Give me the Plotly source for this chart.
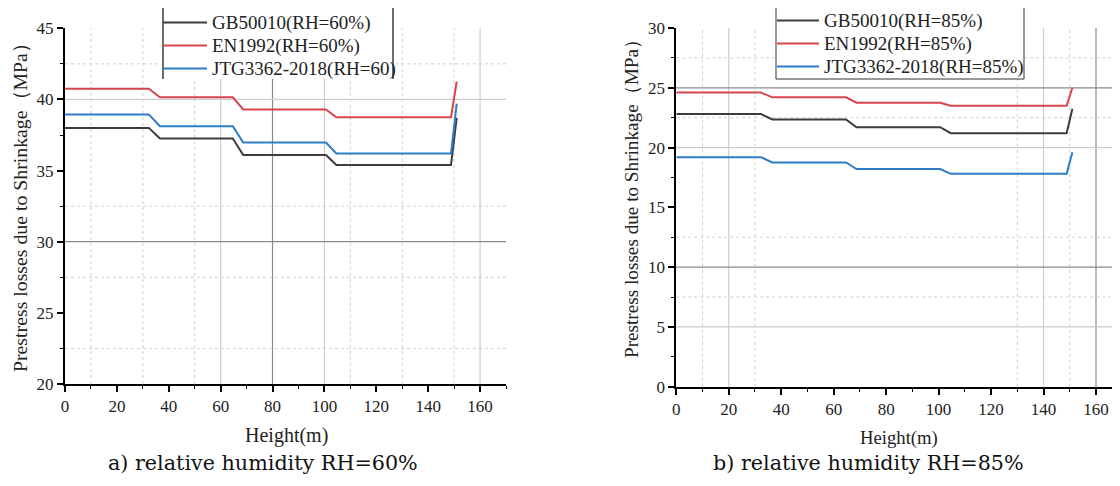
import plotly.graph_objects as go

# ---------------- data ----------------
heights = [0, 32.3, 36.6, 64.7, 68.7, 100.6, 104.6, 148.8, 151]

gb_60 = [38.0, 38.0, 37.25, 37.25, 36.1, 36.1, 35.4, 35.4, 38.7]
en_60 = [40.75, 40.75, 40.15, 40.15, 39.3, 39.3, 38.75, 38.75, 41.25]
jtg_60 = [38.95, 38.95, 38.12, 38.12, 36.97, 36.97, 36.2, 36.2, 39.7]

gb_85 = [22.8, 22.8, 22.35, 22.35, 21.7, 21.7, 21.2, 21.2, 23.25]
en_85 = [24.6, 24.6, 24.2, 24.2, 23.75, 23.75, 23.5, 23.5, 25.0]
jtg_85 = [19.2, 19.2, 18.75, 18.75, 18.2, 18.2, 17.8, 17.8, 19.6]

names_60 = ["GB50010(RH=60%)", "EN1992(RH=60%)", "JTG3362-2018(RH=60)"]
names_85 = ["GB50010(RH=85%)", "EN1992(RH=85%)", "JTG3362-2018(RH=85%)"]

x_ticks = [0, 20, 40, 60, 80, 100, 120, 140, 160]
y_ticks_a = [20, 25, 30, 35, 40, 45]
y_ticks_b = [0, 5, 10, 15, 20, 25, 30]

y_title = "Prestress losses due to Shrinkage（MPa）"
x_title = "Height(m)"
sub_a = "a) relative humidity RH=60%"
sub_b = "b) relative humidity RH=85%"

# grid decoration (value, style)
vgrid_a = {"dot": [10, 30, 50, 110, 130, 150], "light": [60, 100, 160], "dark": [80]}
hgrid_a = {"dot": [22.5, 27.5, 32.5, 42.5], "light": [40], "dark": [30]}
vgrid_b = {"dot": [10, 30, 130, 150], "light": [20, 140], "dark": [160]}
hgrid_b = {"dot": [7.5, 12.5, 22.5, 27.5], "light": [5, 20], "dark": [10, 25]}

colors = ["#3c3c3c", "#d8444c", "#2e7cc6"]
serif = "Liberation Serif, Times New Roman, serif"
LEG_TXT = 19


def leg_name(s):
    return f"<span style='font-size:{LEG_TXT}px'>{s}</span>"


fig = go.Figure()
for vals, name, c in zip([gb_60, en_60, jtg_60], names_60, colors):
    fig.add_trace(go.Scatter(x=heights, y=vals, mode="lines", name=leg_name(name),
                             line=dict(color=c, width=2), xaxis="x", yaxis="y",
                             legend="legend"))
for vals, name, c in zip([gb_85, en_85, jtg_85], names_85, colors):
    fig.add_trace(go.Scatter(x=heights, y=vals, mode="lines", name=leg_name(name),
                             line=dict(color=c, width=2), xaxis="x2", yaxis="y2",
                             legend="legend2"))

W, H = 1120, 486
OFF = 8  # page body margin of the browser


def px(v):
    return (v - OFF) / W


def py(v):
    return 1 - (v - OFF) / H


gstyle = {"dot": dict(color="#cfcfcf", width=1, dash="dot"),
          "light": dict(color="#cdcdcd", width=1.2),
          "dark": dict(color="#8a8a8a", width=1.2)}

shapes = []
for xr, yr, vg, hg in [("x", "y", vgrid_a, hgrid_a), ("x2", "y2", vgrid_b, hgrid_b)]:
    for k, lst in vg.items():
        for v in lst:
            shapes.append(dict(type="line", xref=xr, yref=yr + " domain", x0=v, x1=v, y0=0, y1=1,
                               line=gstyle[k], layer="below"))
    for k, lst in hg.items():
        for v in lst:
            shapes.append(dict(type="line", xref=xr + " domain", yref=yr, x0=0, x1=1, y0=v, y1=v,
                               line=gstyle[k], layer="below"))
# legend backgrounds / frames
shapes.append(dict(type="rect", xref="paper", yref="paper", x0=px(163), x1=px(393),
                   y0=py(79), y1=py(8), fillcolor="white", line=dict(width=0), layer="above"))
for xx in [163, 393]:
    shapes.append(dict(type="line", xref="paper", yref="paper", x0=px(xx), x1=px(xx),
                       y0=py(8), y1=py(79), line=dict(color="#6e6e6e", width=2), layer="above"))
shapes.append(dict(type="rect", xref="paper", yref="paper", x0=px(776), x1=px(1024),
                   y0=py(79), y1=py(7), fillcolor="white", line=dict(color="#333", width=1),
                   layer="above"))

axis_common = dict(showline=True, linecolor="black", linewidth=2, showgrid=False, zeroline=False,
                   automargin=False,
                   ticks="outside", ticklen=6, tickwidth=1.5, tickcolor="black",
                   tickfont=dict(family=serif, size=17, color="#222"),
                   minor=dict(ticks="outside", ticklen=3, tickwidth=1.2, tickcolor="black", showgrid=False))

x2_end = 1128
x2_max = (x2_end - 676.3) / ((1096 - 676.3) / 160)

fig.update_layout(
    width=W, height=H, margin=dict(l=0, r=0, t=0, b=0, autoexpand=False),
    plot_bgcolor="white", paper_bgcolor="white", showlegend=True,
    xaxis=dict(domain=[px(65), px(506)], range=[0, 170], tickvals=x_ticks,
               minor_dtick=10, anchor="y", **axis_common),
    yaxis=dict(domain=[py(384), py(28.3)], range=[20, 45], tickvals=y_ticks_a,
               minor_dtick=2.5, anchor="x", **axis_common),
    xaxis2=dict(domain=[px(676.3), px(x2_end)], range=[0, x2_max], tickvals=x_ticks,
                minor_dtick=10, anchor="y2", **axis_common),
    yaxis2=dict(domain=[py(386.7), py(28)], range=[0, 30], tickvals=y_ticks_b,
                minor_dtick=2.5, anchor="x2", **axis_common),
    legend=dict(x=px(158), y=py(6), xanchor="left", yanchor="top", bgcolor="rgba(0,0,0,0)",
                borderwidth=0, font=dict(family=serif, size=15.4, color="#222"),
                itemwidth=44, tracegroupgap=0),
    legend2=dict(x=px(772), y=py(4), xanchor="left", yanchor="top", bgcolor="rgba(0,0,0,0)",
                 borderwidth=0, font=dict(family=serif, size=15.4, color="#222"),
                 itemwidth=42, tracegroupgap=0),
    shapes=shapes,
)

ann = []
ann.append(dict(text=y_title, x=px(20), y=py(203), textangle=-90,
                font=dict(family=serif, size=19.8, color="#222")))
ann.append(dict(text=y_title, x=px(632), y=py(194), textangle=-90,
                font=dict(family=serif, size=19.2, color="#222")))
ann.append(dict(text=x_title, x=px(286), y=py(435), font=dict(family=serif, size=20, color="#222")))
ann.append(dict(text=x_title, x=px(899), y=py(438), font=dict(family=serif, size=18.7, color="#222")))
ann.append(dict(text=sub_a, x=px(263), y=py(463), font=dict(family="DejaVu Serif", size=20.7, color="#111")))
ann.append(dict(text=sub_b, x=px(868), y=py(463), font=dict(family="DejaVu Serif", size=20.7, color="#111")))
for a in ann:
    a.update(xref="paper", yref="paper", showarrow=False, xanchor="center", yanchor="middle")
fig.update_layout(annotations=ann)

fig.write_html("out.html")
